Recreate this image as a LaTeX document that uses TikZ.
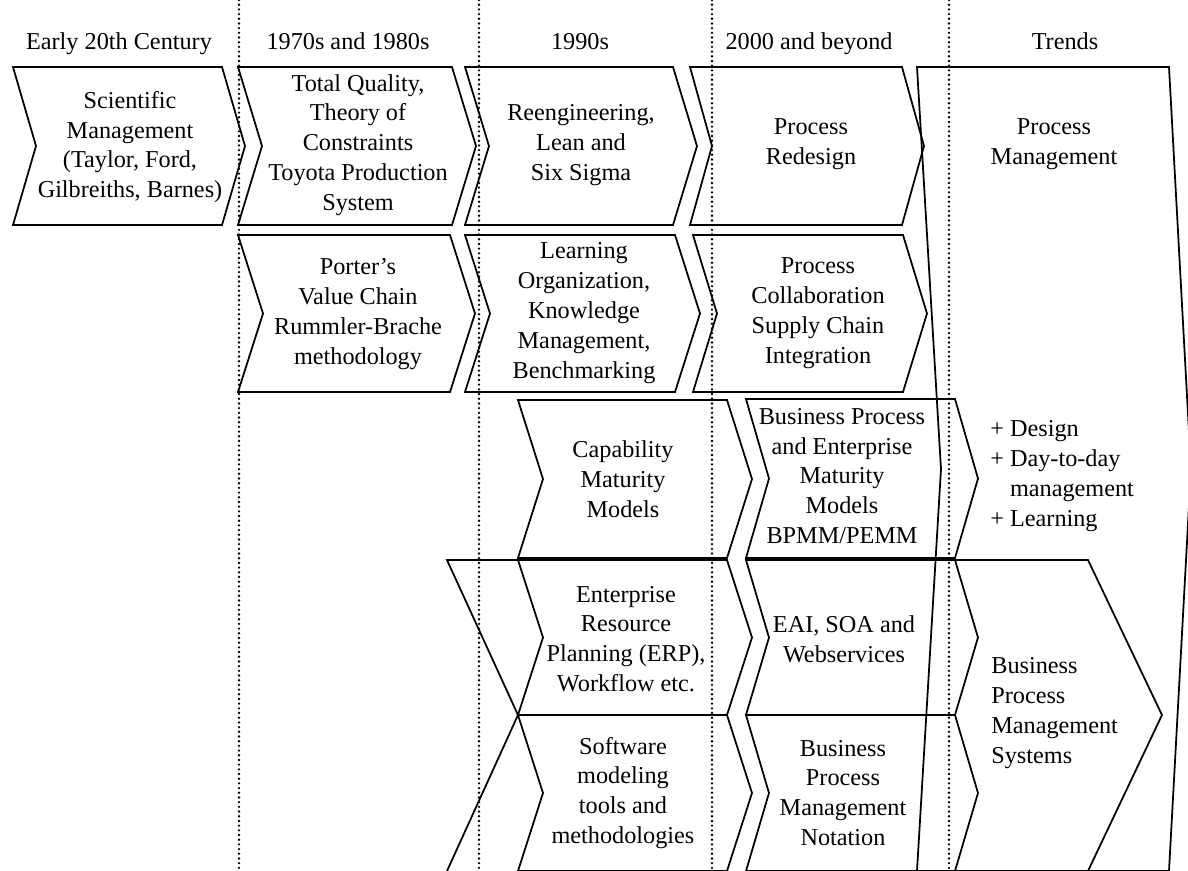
\documentclass[tikz,border=0pt]{standalone}
\usepackage{fontspec}
\setmainfont{Liberation Serif}
% chevron: left x, right x, tip depth, top y, bottom y
\newcommand{\chevbox}[5]{%
  \draw[chev] (#1,#4) -- (#2,#4) -- ({#2+#3},{(#4+#5)/2}) -- (#2,#5)
    -- (#1,#5) -- ({#1+#3},{(#4+#5)/2}) -- cycle;}
\begin{document}
\begin{tikzpicture}[x=0.02cm,y=-0.02cm,
  chev/.style={draw=black,line width=1pt,line join=miter},
  era/.style={draw=black,line width=1.5pt,line cap=round,dash pattern=on 0pt off 2.67pt},
  txt/.style={font=\fontsize{13.8}{17}\selectfont,align=center,inner sep=0pt},
  hdr/.style={font=\fontsize{13.8}{17}\selectfont,inner sep=0pt,anchor=base},
  lefttxt/.style={font=\fontsize{13.8}{17}\selectfont,align=left,inner sep=0pt,anchor=west}]
\useasboundingbox (0,0) rectangle (1188,870);
\clip (0,0) rectangle (1188,870);

% period headings
\node[hdr] (h1) at (119,49) {Early 20th Century};
\node[hdr] (h2) at (348,49) {1970s and 1980s};
\node[hdr] (h3) at (580,49) {1990s};
\node[hdr] (h4) at (809,49) {2000 and beyond};
\node[hdr] (h5) at (1065,49) {Trends};

% trends: one tall chevron
\draw[chev] (917,67) -- (1169,67) -- (1191,469) -- (1169,871)
  -- (917,871) -- (941,469) -- cycle;

% row 1
\chevbox{13}{222}{23}{67}{225}
\chevbox{238}{452}{24}{67}{225}
\chevbox{465}{673}{24}{67}{225}
\chevbox{690}{902}{22}{67}{225}

% row 2
\chevbox{238}{450}{25}{235}{392}
\chevbox{465}{675}{25}{235}{392}
\chevbox{693}{903}{24}{235}{392}

% row 3
\chevbox{518}{727}{25}{400}{558}
\chevbox{746}{955}{23}{399}{558}

% row 4
\chevbox{518}{727}{25}{560}{715}
\chevbox{746}{955}{23}{560}{715}

% row 5
\chevbox{518}{727}{25}{715}{871}
\chevbox{746}{955}{23}{715}{871}

% tip of the shape feeding rows 4 and 5
\draw[chev] (518,560) -- (447,560) -- (518,715) -- (447,871);

% business process management systems
\draw[chev] (955,560) -- (1088,560) -- (1162,715) -- (1088,871);

% period separators
\foreach \px in {239,479,712,949}
  \draw[era] (\px,0) -- (\px,870);

% texts
\node[txt] (sm) at (130,147) {Scientific\\Management\\(Taylor, Ford,\\Gilbreiths, Barnes)};
\node[txt] (tq) at (358,145) {Total Quality,\\Theory of\\Constraints\\Toyota Production\\System};
\node[txt] (re) at (581,145) {Reengineering,\\Lean and\\Six Sigma};
\node[txt] (pr) at (811,144) {Process\\Redesign};
\node[txt] (pm) at (1054,144) {Process\\Management};

\node[txt] (vc) at (358,314) {Porter’s\\Value Chain\\Rummler-Brache\\methodology};
\node[txt] (lo) at (584,313) {Learning\\Organization,\\Knowledge\\Management,\\Benchmarking};
\node[txt] (pc) at (818,313) {Process\\Collaboration\\Supply Chain\\Integration};

\node[txt] (cmm) at (623,479) {Capability\\Maturity\\Models};
\node[txt] (bpmm) at (842,476) {Business Process\\and Enterprise\\Maturity\\Models\\BPMM/PEMM};
\node[lefttxt] (plus) at (990,476) {+ Design\\+ Day-to-day\\\phantom{+ }management\\+ Learning};

\node[txt] (erp) at (626,639) {Enterprise\\Resource\\Planning (ERP),\\Workflow etc.};
\node[txt] (eai) at (844,639) {EAI, SOA and\\Webservices};

\node[txt] (smt) at (623,793) {Software\\modeling\\tools and\\methodologies};
\node[txt] (bpmn) at (843,793) {Business\\Process\\Management\\Notation};

\node[lefttxt] (bpms) at (991,713) {Business\\Process\\Management\\Systems};
\end{tikzpicture}
\end{document}
